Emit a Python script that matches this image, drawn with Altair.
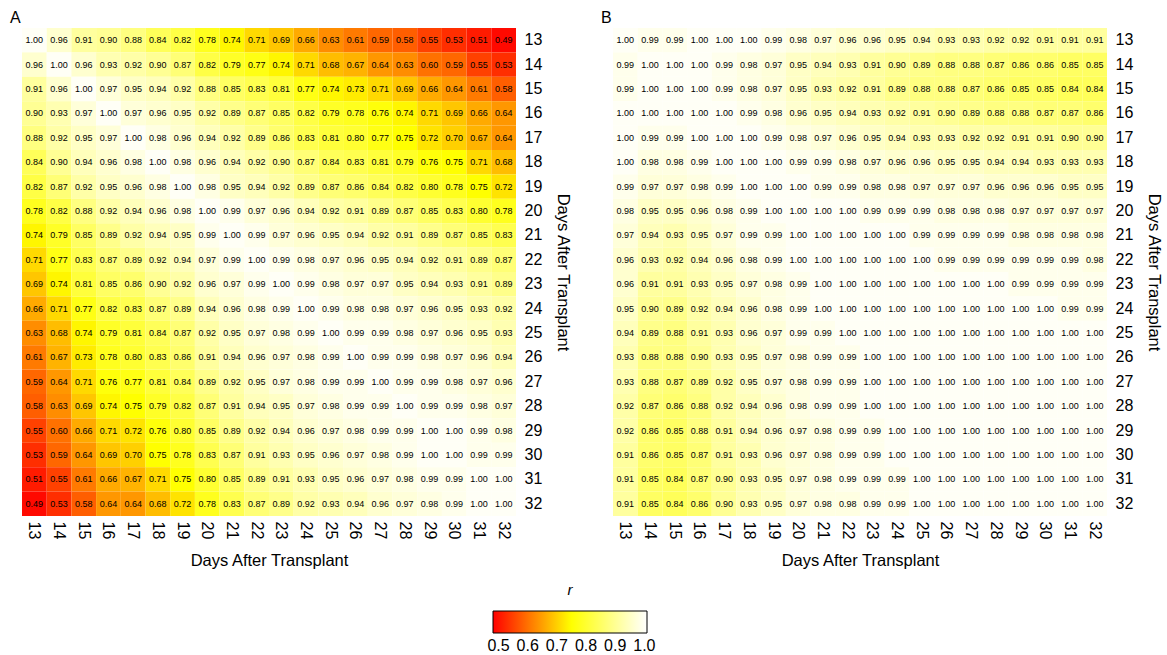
import altair as alt
import pandas as pd

days = list(range(13, 33))

panel_a = [
    [1.00, 0.96, 0.91, 0.90, 0.88, 0.84, 0.82, 0.78, 0.74, 0.71, 0.69, 0.66, 0.63, 0.61, 0.59, 0.58, 0.55, 0.53, 0.51, 0.49],
    [0.96, 1.00, 0.96, 0.93, 0.92, 0.90, 0.87, 0.82, 0.79, 0.77, 0.74, 0.71, 0.68, 0.67, 0.64, 0.63, 0.60, 0.59, 0.55, 0.53],
    [0.91, 0.96, 1.00, 0.97, 0.95, 0.94, 0.92, 0.88, 0.85, 0.83, 0.81, 0.77, 0.74, 0.73, 0.71, 0.69, 0.66, 0.64, 0.61, 0.58],
    [0.90, 0.93, 0.97, 1.00, 0.97, 0.96, 0.95, 0.92, 0.89, 0.87, 0.85, 0.82, 0.79, 0.78, 0.76, 0.74, 0.71, 0.69, 0.66, 0.64],
    [0.88, 0.92, 0.95, 0.97, 1.00, 0.98, 0.96, 0.94, 0.92, 0.89, 0.86, 0.83, 0.81, 0.80, 0.77, 0.75, 0.72, 0.70, 0.67, 0.64],
    [0.84, 0.90, 0.94, 0.96, 0.98, 1.00, 0.98, 0.96, 0.94, 0.92, 0.90, 0.87, 0.84, 0.83, 0.81, 0.79, 0.76, 0.75, 0.71, 0.68],
    [0.82, 0.87, 0.92, 0.95, 0.96, 0.98, 1.00, 0.98, 0.95, 0.94, 0.92, 0.89, 0.87, 0.86, 0.84, 0.82, 0.80, 0.78, 0.75, 0.72],
    [0.78, 0.82, 0.88, 0.92, 0.94, 0.96, 0.98, 1.00, 0.99, 0.97, 0.96, 0.94, 0.92, 0.91, 0.89, 0.87, 0.85, 0.83, 0.80, 0.78],
    [0.74, 0.79, 0.85, 0.89, 0.92, 0.94, 0.95, 0.99, 1.00, 0.99, 0.97, 0.96, 0.95, 0.94, 0.92, 0.91, 0.89, 0.87, 0.85, 0.83],
    [0.71, 0.77, 0.83, 0.87, 0.89, 0.92, 0.94, 0.97, 0.99, 1.00, 0.99, 0.98, 0.97, 0.96, 0.95, 0.94, 0.92, 0.91, 0.89, 0.87],
    [0.69, 0.74, 0.81, 0.85, 0.86, 0.90, 0.92, 0.96, 0.97, 0.99, 1.00, 0.99, 0.98, 0.97, 0.97, 0.95, 0.94, 0.93, 0.91, 0.89],
    [0.66, 0.71, 0.77, 0.82, 0.83, 0.87, 0.89, 0.94, 0.96, 0.98, 0.99, 1.00, 0.99, 0.98, 0.98, 0.97, 0.96, 0.95, 0.93, 0.92],
    [0.63, 0.68, 0.74, 0.79, 0.81, 0.84, 0.87, 0.92, 0.95, 0.97, 0.98, 0.99, 1.00, 0.99, 0.99, 0.98, 0.97, 0.96, 0.95, 0.93],
    [0.61, 0.67, 0.73, 0.78, 0.80, 0.83, 0.86, 0.91, 0.94, 0.96, 0.97, 0.98, 0.99, 1.00, 0.99, 0.99, 0.98, 0.97, 0.96, 0.94],
    [0.59, 0.64, 0.71, 0.76, 0.77, 0.81, 0.84, 0.89, 0.92, 0.95, 0.97, 0.98, 0.99, 0.99, 1.00, 0.99, 0.99, 0.98, 0.97, 0.96],
    [0.58, 0.63, 0.69, 0.74, 0.75, 0.79, 0.82, 0.87, 0.91, 0.94, 0.95, 0.97, 0.98, 0.99, 0.99, 1.00, 0.99, 0.99, 0.98, 0.97],
    [0.55, 0.60, 0.66, 0.71, 0.72, 0.76, 0.80, 0.85, 0.89, 0.92, 0.94, 0.96, 0.97, 0.98, 0.99, 0.99, 1.00, 1.00, 0.99, 0.98],
    [0.53, 0.59, 0.64, 0.69, 0.70, 0.75, 0.78, 0.83, 0.87, 0.91, 0.93, 0.95, 0.96, 0.97, 0.98, 0.99, 1.00, 1.00, 0.99, 0.99],
    [0.51, 0.55, 0.61, 0.66, 0.67, 0.71, 0.75, 0.80, 0.85, 0.89, 0.91, 0.93, 0.95, 0.96, 0.97, 0.98, 0.99, 0.99, 1.00, 1.00],
    [0.49, 0.53, 0.58, 0.64, 0.64, 0.68, 0.72, 0.78, 0.83, 0.87, 0.89, 0.92, 0.93, 0.94, 0.96, 0.97, 0.98, 0.99, 1.00, 1.00],
]

panel_b = [
    [1.00, 0.99, 0.99, 1.00, 1.00, 1.00, 0.99, 0.98, 0.97, 0.96, 0.96, 0.95, 0.94, 0.93, 0.93, 0.92, 0.92, 0.91, 0.91, 0.91],
    [0.99, 1.00, 1.00, 1.00, 0.99, 0.98, 0.97, 0.95, 0.94, 0.93, 0.91, 0.90, 0.89, 0.88, 0.88, 0.87, 0.86, 0.86, 0.85, 0.85],
    [0.99, 1.00, 1.00, 1.00, 0.99, 0.98, 0.97, 0.95, 0.93, 0.92, 0.91, 0.89, 0.88, 0.88, 0.87, 0.86, 0.85, 0.85, 0.84, 0.84],
    [1.00, 1.00, 1.00, 1.00, 1.00, 0.99, 0.98, 0.96, 0.95, 0.94, 0.93, 0.92, 0.91, 0.90, 0.89, 0.88, 0.88, 0.87, 0.87, 0.86],
    [1.00, 0.99, 0.99, 1.00, 1.00, 1.00, 0.99, 0.98, 0.97, 0.96, 0.95, 0.94, 0.93, 0.93, 0.92, 0.92, 0.91, 0.91, 0.90, 0.90],
    [1.00, 0.98, 0.98, 0.99, 1.00, 1.00, 1.00, 0.99, 0.99, 0.98, 0.97, 0.96, 0.96, 0.95, 0.95, 0.94, 0.94, 0.93, 0.93, 0.93],
    [0.99, 0.97, 0.97, 0.98, 0.99, 1.00, 1.00, 1.00, 0.99, 0.99, 0.98, 0.98, 0.97, 0.97, 0.97, 0.96, 0.96, 0.96, 0.95, 0.95],
    [0.98, 0.95, 0.95, 0.96, 0.98, 0.99, 1.00, 1.00, 1.00, 1.00, 0.99, 0.99, 0.99, 0.98, 0.98, 0.98, 0.97, 0.97, 0.97, 0.97],
    [0.97, 0.94, 0.93, 0.95, 0.97, 0.99, 0.99, 1.00, 1.00, 1.00, 1.00, 1.00, 0.99, 0.99, 0.99, 0.99, 0.98, 0.98, 0.98, 0.98],
    [0.96, 0.93, 0.92, 0.94, 0.96, 0.98, 0.99, 1.00, 1.00, 1.00, 1.00, 1.00, 1.00, 0.99, 0.99, 0.99, 0.99, 0.99, 0.99, 0.98],
    [0.96, 0.91, 0.91, 0.93, 0.95, 0.97, 0.98, 0.99, 1.00, 1.00, 1.00, 1.00, 1.00, 1.00, 1.00, 1.00, 0.99, 0.99, 0.99, 0.99],
    [0.95, 0.90, 0.89, 0.92, 0.94, 0.96, 0.98, 0.99, 1.00, 1.00, 1.00, 1.00, 1.00, 1.00, 1.00, 1.00, 1.00, 1.00, 0.99, 0.99],
    [0.94, 0.89, 0.88, 0.91, 0.93, 0.96, 0.97, 0.99, 0.99, 1.00, 1.00, 1.00, 1.00, 1.00, 1.00, 1.00, 1.00, 1.00, 1.00, 1.00],
    [0.93, 0.88, 0.88, 0.90, 0.93, 0.95, 0.97, 0.98, 0.99, 0.99, 1.00, 1.00, 1.00, 1.00, 1.00, 1.00, 1.00, 1.00, 1.00, 1.00],
    [0.93, 0.88, 0.87, 0.89, 0.92, 0.95, 0.97, 0.98, 0.99, 0.99, 1.00, 1.00, 1.00, 1.00, 1.00, 1.00, 1.00, 1.00, 1.00, 1.00],
    [0.92, 0.87, 0.86, 0.88, 0.92, 0.94, 0.96, 0.98, 0.99, 0.99, 1.00, 1.00, 1.00, 1.00, 1.00, 1.00, 1.00, 1.00, 1.00, 1.00],
    [0.92, 0.86, 0.85, 0.88, 0.91, 0.94, 0.96, 0.97, 0.98, 0.99, 0.99, 1.00, 1.00, 1.00, 1.00, 1.00, 1.00, 1.00, 1.00, 1.00],
    [0.91, 0.86, 0.85, 0.87, 0.91, 0.93, 0.96, 0.97, 0.98, 0.99, 0.99, 1.00, 1.00, 1.00, 1.00, 1.00, 1.00, 1.00, 1.00, 1.00],
    [0.91, 0.85, 0.84, 0.87, 0.90, 0.93, 0.95, 0.97, 0.98, 0.99, 0.99, 0.99, 1.00, 1.00, 1.00, 1.00, 1.00, 1.00, 1.00, 1.00],
    [0.91, 0.85, 0.84, 0.86, 0.90, 0.93, 0.95, 0.97, 0.98, 0.98, 0.99, 0.99, 1.00, 1.00, 1.00, 1.00, 1.00, 1.00, 1.00, 1.00],
]

legend_values = [0.5, 0.6, 0.7, 0.8, 0.9, 1.0]
color_stops = [0.481, 0.75, 1.009]
color_range = ["#FF0000", "#FFFF00", "#FFFFFF"]

FONT = "Liberation Sans"


def frame(mat):
    recs = []
    for i, rd in enumerate(days):
        for j, cd in enumerate(days):
            recs.append({"row": rd, "col": cd, "r": mat[i][j]})
    return pd.DataFrame(recs)


color = alt.Color(
    "r:Q",
    scale=alt.Scale(domain=color_stops, range=color_range, clamp=True, interpolate="rgb"),
    legend=alt.Legend(
        title="r",
        orient="none",
        direction="horizontal",
        legendX=471,
        legendY=555,
        gradientLength=154,
        gradientThickness=22,
        gradientStrokeColor="black",
        gradientStrokeWidth=1,
        values=legend_values,
        format=".1f",
        labelFontSize=16,
        labelColor="black",
        labelOverlap=False,
        labelOffset=5,
        titleFontSize=15,
        titleFontStyle="italic",
        titleFontWeight="normal",
        titleColor="black",
        titleOrient="top",
        titleAnchor="middle",
        titlePadding=13,
    ),
)


def panel(mat, letter):
    base = alt.Chart(frame(mat)).encode(
        x=alt.X(
            "col:O",
            title="Days After Transplant",
            axis=alt.Axis(labelAngle=90, labelPadding=5, titlePadding=14),
        ),
        y=alt.Y(
            "row:O",
            title="Days After Transplant",
            axis=alt.Axis(orient="right", labelPadding=8, titlePadding=13),
        ),
    )
    rect = base.mark_rect(strokeWidth=0).encode(color=color)
    text = base.mark_text(fontSize=9, color="black", font=FONT).encode(
        text=alt.Text("r:Q", format=".2f")
    )
    return (rect + text).properties(
        width=494,
        height=488,
        title=alt.Title(
            letter,
            anchor="start",
            dx=-12,
            fontSize=16,
            fontWeight="normal",
            font=FONT,
            color="black",
            offset=2,
        ),
    )


chart = (
    alt.hconcat(panel(panel_a, "A"), panel(panel_b, "B"), spacing=30)
    .properties(padding={"left": 10, "top": 10, "right": 5, "bottom": 5})
    .configure(font=FONT)
    .configure_view(stroke=None)
    .configure_axis(
        domain=False,
        ticks=False,
        grid=False,
        labelFontSize=16,
        labelColor="black",
        labelFont=FONT,
        titleFontSize=16.5,
        titleFontWeight="normal",
        titleColor="black",
        titleFont=FONT,
    )
)

chart.save("out.html", embed_options={"renderer": "svg", "actions": False})
